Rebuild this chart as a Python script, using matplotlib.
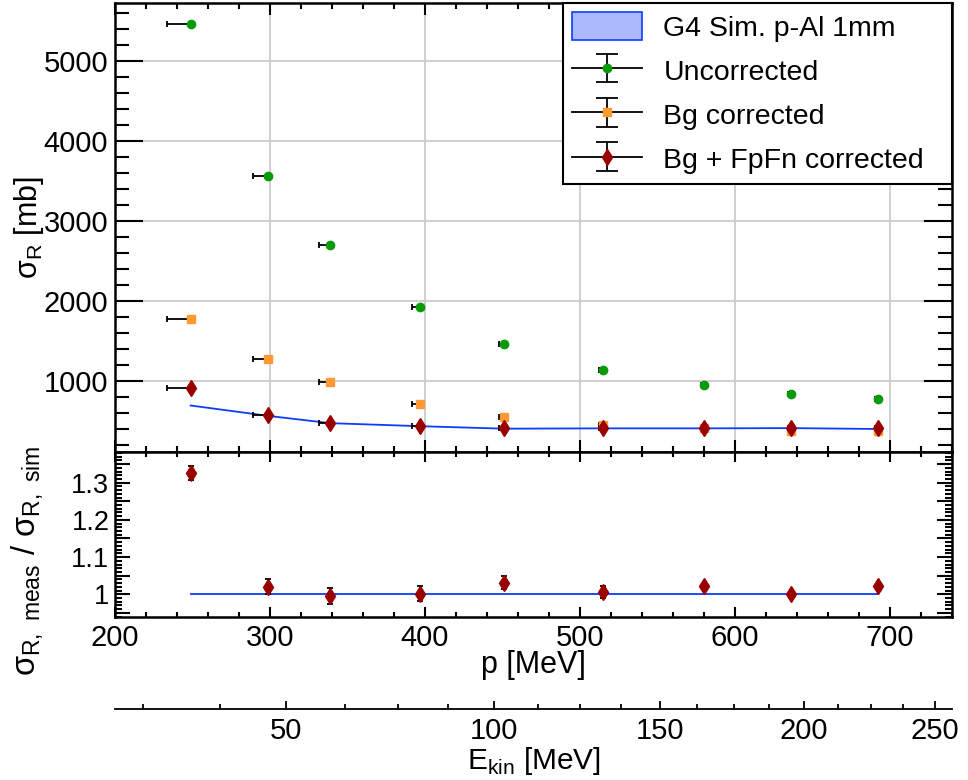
import numpy as np
import matplotlib
matplotlib.use("Agg")
import matplotlib.pyplot as plt
from matplotlib.ticker import MultipleLocator, FuncFormatter, FixedLocator, NullFormatter
from matplotlib.patches import Patch
from matplotlib.lines import Line2D
from matplotlib.legend_handler import HandlerTuple

plt.rcParams['font.family'] = ['Liberation Sans', 'DejaVu Sans']
plt.rcParams['mathtext.fontset'] = 'custom'
plt.rcParams['mathtext.rm'] = 'Liberation Sans'

# ---- data ----
p = [248.8, 298.9, 338.9, 396.8, 450.9, 514.8, 579.8, 636.2, 692.3]
p_err_low = [15, 10, 7, 5, 3, 2.5, 2, 2, 2]

sig_uncorr = [5463, 3568, 2698, 1920, 1468, 1134, 946, 833, 778]
sig_bg = [1769, 1276, 991, 715, 552, 444, 410, 376, 376]
sig_bgfpfn = [916, 573, 469, 435, 414, 410, 414, 410, 406]
sig_sim = [692, 562, 471, 433, 402, 406, 406, 409, 398]

ratio = [1.326, 1.020, 0.995, 1.002, 1.031, 1.005, 1.021, 1.001, 1.021]
ratio_err = [0.020, 0.020, 0.021, 0.020, 0.018, 0.016, 0.005, 0.004, 0.005]

ekin_labels = [50, 100, 150, 200, 250]
M_P = 938.272

GREEN = '#0a9a0a'
ORANGE = '#ff9933'
DARKRED = '#990000'
BLUE = '#0d3cff'

fig = plt.figure(figsize=(9.68, 7.8), dpi=100)
L, R = 115 / 968, 952 / 968
ax = fig.add_axes([L, 1 - 452 / 780, R - L, (452 - 3) / 780])
axr = fig.add_axes([L, 1 - 617 / 780, R - L, (617 - 452) / 780], sharex=ax)
axe = fig.add_axes([L, 1 - 709 / 780, R - L, 0.0001])

xlo, xhi = 200, 740
fs = 21      # tick labels
fst = 22     # axis titles

# ---- top panel ----
ax.plot(p, sig_sim, color=BLUE, lw=1.3, zorder=2)
xe = [p_err_low, [0] * len(p)]
for y, c, m, ms in [(sig_uncorr, GREEN, 'o', 6), (sig_bg, ORANGE, 's', 6),
                    (sig_bgfpfn, DARKRED, 'd', 8)]:
    ax.errorbar(p, y, xerr=xe, fmt=m, color=c, ms=ms, mec=c, ecolor='black',
                elinewidth=1.3, capsize=2, capthick=1.3, zorder=3)

ax.set_xlim(xlo, xhi)
ax.set_ylim(110, 5730)
ax.grid(True, color='#cccccc', lw=1.3)
ax.set_axisbelow(True)
ax.yaxis.set_major_locator(MultipleLocator(1000))
ax.yaxis.set_minor_locator(MultipleLocator(200))
ax.xaxis.set_major_locator(MultipleLocator(100))
ax.xaxis.set_minor_locator(MultipleLocator(20))
ax.tick_params(axis='both', which='both', direction='in', top=True, right=True,
               width=1.5, labelsize=fs)
ax.tick_params(axis='y', which='major', length=20, pad=5)
ax.tick_params(axis='y', which='minor', length=10)
ax.tick_params(axis='x', which='major', length=8.5)
ax.tick_params(axis='x', which='minor', length=4.3)
ax.tick_params(axis='x', labelbottom=False)
ax.set_ylabel('σ$_\\mathregular{R}$ [mb]', fontsize=fst)
ax.yaxis.set_label_coords(-0.083, 0.5)

# legend
leg_handles = [Patch(facecolor='#a9b9fb', edgecolor=BLUE, lw=1.2)]
for c, m, ms in [(GREEN, 'o', 6), (ORANGE, 's', 6), (DARKRED, 'd', 8)]:
    eb = ax.errorbar([np.nan], [np.nan], yerr=[1], fmt=m, color=c, ms=ms, mec=c,
                     ecolor='black', elinewidth=1.3, capsize=8, capthick=1.3)
    hl = Line2D([], [], color='black', lw=1.3)
    leg_handles.append((hl, eb))
leg = ax.legend(leg_handles,
                ['G4 Sim. p-Al 1mm', 'Uncorrected', 'Bg corrected', 'Bg + FpFn corrected'],
                handler_map={tuple: HandlerTuple(ndivide=1, pad=0)},
                loc='upper left', bbox_to_anchor=(0.5352, 0.6102, 0.4648, 0.3898),
                mode='expand', borderaxespad=0,
                fancybox=False, edgecolor='black', framealpha=1, fontsize=20.5,
                handlelength=2.45, handleheight=1.1, handletextpad=0.75,
                labelspacing=0.52, borderpad=0.33)
leg.get_frame().set_linewidth(1.5)

# ---- ratio panel ----
axr.plot([p[0], p[-1]], [1, 1], color=BLUE, lw=1.3, zorder=2)
axr.errorbar(p, ratio, yerr=ratio_err, fmt='d', color=DARKRED, ms=8, mec=DARKRED,
             ecolor='black', elinewidth=1.3, capsize=2, capthick=1.3, zorder=3)
axr.set_ylim(0.939, 1.3825)
axr.yaxis.set_major_locator(MultipleLocator(0.05))
axr.yaxis.set_minor_locator(MultipleLocator(0.01))
axr.yaxis.set_major_formatter(FuncFormatter(
    lambda v, pos: ('%g' % round(v, 2)) if abs(v * 10 - round(v * 10)) < 1e-6 else ''))
axr.tick_params(axis='both', which='both', direction='in', top=True, right=True,
                width=1.5)
axr.tick_params(axis='y', which='major', length=11, labelsize=19.5, pad=4)
axr.tick_params(axis='y', which='minor', length=5)
axr.tick_params(axis='x', which='major', length=7.2, labelsize=fs, pad=5)
axr.tick_params(axis='x', which='minor', length=3.6)
axr.set_ylabel('σ$_\\mathregular{R,\\ meas}$ / σ$_\\mathregular{R,\\ sim}$', fontsize=23.5)
axr.yaxis.set_label_coords(-0.083, 0.34)
axr.set_xlabel('p [MeV]', fontsize=fst)
axr.xaxis.set_label_coords(0.5, -0.2)

# ---- kinetic energy axis ----
def p_of_ekin(e):
    e = np.asarray(e, dtype=float)
    return np.sqrt((e + M_P) ** 2 - M_P ** 2)

ekin_minor = np.arange(25, 251, 12.5)
axe.set_xlim(xlo, xhi)
axe.set_ylim(0, 1)
axe.xaxis.set_major_locator(FixedLocator(p_of_ekin(ekin_labels)))
axe.xaxis.set_major_formatter(FuncFormatter(
    lambda v, pos: str(ekin_labels[pos]) if pos is not None and pos < len(ekin_labels) else ''))
axe.xaxis.set_minor_locator(FixedLocator(p_of_ekin(ekin_minor)))
axe.xaxis.set_minor_formatter(NullFormatter())
axe.set_yticks([])
for s in ['top', 'left', 'right']:
    axe.spines[s].set_visible(False)
axe.spines['bottom'].set_linewidth(1.3)
axe.set_xlabel('E$_\\mathregular{kin}$ [MeV]', fontsize=21.5, labelpad=0)

# ticks pointing upward from the E_kin line
axe.tick_params(axis='x', which='both', bottom=True, top=False, direction='in',
                width=1.3, labelsize=fs, pad=6)
axe.tick_params(axis='x', which='major', length=6)
axe.tick_params(axis='x', which='minor', length=3.5)

for a in (ax, axr):
    for s in a.spines.values():
        s.set_linewidth(1.8)

fig.savefig('out.png', dpi=100)
